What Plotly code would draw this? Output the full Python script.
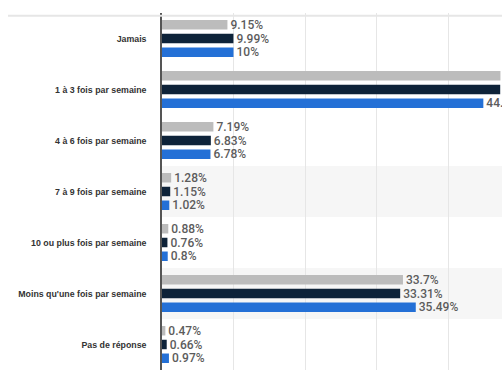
import plotly.graph_objects as go

categories = [
    "Jamais",
    "1 à 3 fois par semaine",
    "4 à 6 fois par semaine",
    "7 à 9 fois par semaine",
    "10 ou plus fois par semaine",
    "Moins qu'une fois par semaine",
    "Pas de réponse",
]
series_grey = [9.15, 47.33, 7.19, 1.28, 0.88, 33.7, 0.47]
series_navy = [9.99, 47.3, 6.83, 1.15, 0.76, 33.31, 0.66]
series_blue = [10, 44.94, 6.78, 1.02, 0.8, 35.49, 0.97]
series_names = ["Série 1", "Série 2", "Série 3"]
colors = ["#bcbcbc", "#0e2339", "#2470d6"]

def fmt(v):
    s = f"{v:.2f}".rstrip("0").rstrip(".")
    return s + "%"

fig = go.Figure()
for name, vals, col in zip(series_names, [series_grey, series_navy, series_blue], colors):
    fig.add_trace(go.Bar(
        y=categories, x=vals, name=name, orientation="h",
        marker=dict(color=col, line=dict(width=0)),
        text=[fmt(v) for v in vals], textposition="outside",
        textfont=dict(family="Roboto", size=12, color="#5c5c5c", weight=500),
        cliponaxis=False, constraintext="none", textangle=0,
    ))

shapes = []
for idx in (3, 5):
    shapes.append(dict(type="rect", xref="paper", yref="y", x0=0, x1=1,
                       y0=idx - 0.5, y1=idx + 0.5, fillcolor="#f6f6f6",
                       line=dict(width=0), layer="below"))
shapes.append(dict(type="line", xref="paper", yref="paper", x0=-0.453, x1=1,
                   y0=0.992, y1=0.992, line=dict(color="#e6e6e6", width=2)))

fig.update_layout(
    width=502, height=370,
    margin=dict(l=162, r=0, t=13, b=0),
    paper_bgcolor="white", plot_bgcolor="rgba(0,0,0,0)",
    barmode="group", bargap=0.19, bargroupgap=0.31,
    showlegend=False,
    shapes=shapes,
    xaxis=dict(range=[0, 47.55], dtick=10, showgrid=True, gridcolor="#e6e6e6",
               gridwidth=1, showticklabels=False, zeroline=False, showline=False),
    yaxis=dict(autorange="reversed", showgrid=False, showline=True,
               linecolor="#555555", linewidth=1.5, ticklabelstandoff=12,
               tickfont=dict(family="Liberation Sans", size=8.8, color="#333333", weight="bold")),
)
fig.write_html("out.html")
